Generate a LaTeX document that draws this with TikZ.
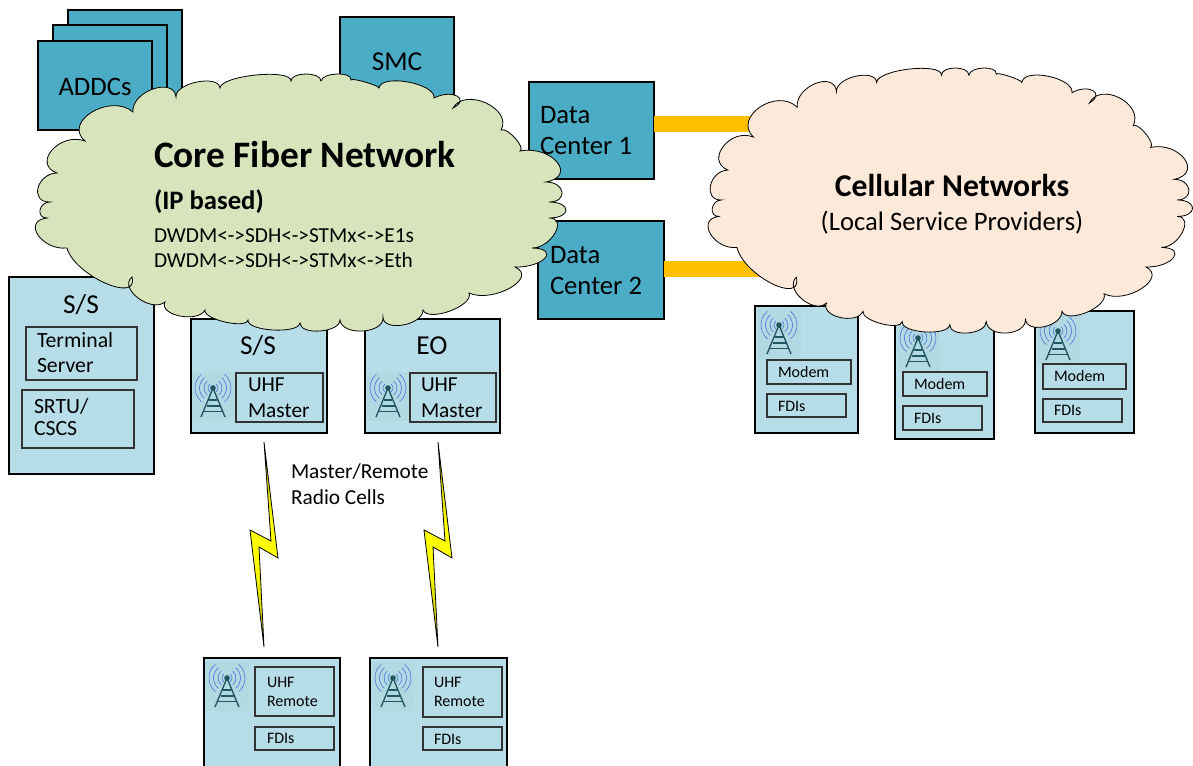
\documentclass[tikz,border=0pt]{standalone}
\usepackage{fontspec}
\setmainfont{Carlito}
\definecolor{teal}{HTML}{4BACC6}
\definecolor{lightb}{HTML}{B7DDE8}
\definecolor{corec}{HTML}{D8E4BC}
\definecolor{cellc}{HTML}{FDE9D9}
\definecolor{orangec}{HTML}{FFC000}
\definecolor{towerc}{HTML}{215560}
\definecolor{arcc}{HTML}{2F5FE0}
\definecolor{iconbg}{HTML}{B2D8E1}
\definecolor{boltdark}{HTML}{3C3C00}
\pgfdeclareverticalshading{boltsh}{100bp}{color(0bp)=(boltdark); color(25bp)=(yellow!70!black); color(45bp)=(yellow); color(55bp)=(yellow); color(75bp)=(yellow!70!black); color(100bp)=(boltdark)}
% one cloud bump: from A, through P, to B
\def\A#1#2#3#4#5#6{.. controls ({#1+4/3*(#3-(#1+#5)/2)},{#2+4/3*(#4-(#2+#6)/2)}) and ({#5+4/3*(#3-(#1+#5)/2)},{#6+4/3*(#4-(#2+#6)/2)}) .. (#5,#6) }
\def\cloudpath{(133,112)
 \A{133}{112}{153}{89}{176}{97}
 \A{176}{97}{197}{82}{220}{88}
 \A{220}{88}{256}{75}{291}{81}
 \A{291}{81}{306}{74}{321}{81}
 \A{321}{81}{337}{74}{351}{80}
 \A{351}{80}{365}{82}{379}{88}
 \A{379}{88}{408}{82}{434}{98}
 \A{434}{98}{457}{96}{453}{108}
 \A{453}{108}{486}{103}{501}{130}
 \A{501}{130}{515}{138}{520}{151}
 \A{520}{151}{557}{162}{546}{182}
 \A{546}{182}{562}{192}{549}{202}
 \A{549}{202}{566}{210}{549}{218}
 \A{549}{218}{555}{233}{532}{248}
 \A{532}{248}{545}{258}{515}{267}
 \A{515}{267}{510}{288}{469}{293}
 \A{469}{293}{450}{311}{423}{310}
 \A{423}{310}{403}{325}{383}{317}
 \A{383}{317}{363}{331}{340}{320}
 \A{340}{320}{320}{331}{300}{323}
 \A{300}{323}{273}{330}{248}{320}
 \A{248}{320}{225}{322}{205}{310}
 \A{205}{310}{180}{316}{165}{302}
 \A{165}{302}{138}{298}{132}{277}
 \A{132}{277}{105}{283}{67}{248}
 \A{67}{248}{38}{235}{47}{218}
 \A{47}{218}{40}{210}{50}{202}
 \A{50}{202}{38}{188}{57}{173}
 \A{57}{173}{52}{150}{85}{141}
 \A{85}{141}{92}{112}{133}{112}
 -- cycle}
\tikzset{
 box/.style={draw=black,line width=0.95pt,rectangle,inner sep=0pt,outer sep=0pt},
 darkbox/.style={box,fill=teal},
 litebox/.style={box,fill=lightb},
 innerbox/.style={draw=black!80,line width=0.85pt,rectangle,inner sep=0pt,outer sep=0pt},
 lbl/.style={anchor=base west,inner sep=0pt,outer sep=0pt,text=black},
 clbl/.style={anchor=base,inner sep=0pt,outer sep=0pt,text=black},
 cloudline/.style={draw=black,line width=0.6pt,line join=miter},
 fatlink/.style={draw=orangec,line width=12pt},
 bolt/.style={draw=black,line width=0.6pt,shading=boltsh,line join=miter},
 towericon/.pic={
  \fill[iconbg] (-21,-16) rectangle (22,33);
  \foreach \r in {5,9,13.5,18}{
   \draw[arcc,line width=0.35pt] ({\r*cos(130)},{\r*sin(130)}) arc[start angle=130,end angle=230,radius=\r];
   \draw[arcc,line width=0.35pt] ({\r*cos(-50)},{\r*sin(-50)}) arc[start angle=-50,end angle=50,radius=\r];
  }
  \draw[towerc,line width=1pt,line join=round] (-12,29) -- (0,0) -- (12,29);
  \draw[towerc,line width=0.8pt] (-4,12) -- (4,12) (-6.5,18) -- (6.5,18) (-9,23.5) -- (9,23.5);
  \fill[towerc] (0,0) circle[radius=2.8];
 }
}
\newcommand{\bx}[6]{\node[#1,minimum width={(#5-#3)*0.75pt},minimum height={(#6-#4)*0.75pt}] (#2) at ({(#3+#5)/2},{(#4+#6)/2}) {};}
\begin{document}
\begin{tikzpicture}[x=0.75pt,y=-0.75pt]
\useasboundingbox (0,0) rectangle (1193,765);
\fill[white] (0,0) rectangle (1193,765);
% ADDC stack, SMC
\bx{darkbox}{addc3}{68}{10}{182}{100}
\bx{darkbox}{addc2}{53}{25}{167}{115}
\bx{darkbox}{addc1}{38}{41}{152}{130}
\bx{darkbox}{smc}{340}{17}{454}{110}
\node[clbl,font=\fontsize{20}{20}\selectfont] (addct) at (95,95) {ADDCs};
\node[clbl,font=\fontsize{20.5}{20.5}\selectfont] (smct) at (397,70) {SMC};
% data centres
\bx{darkbox}{dc1}{529}{82}{654}{179}
\bx{darkbox}{dc2}{538}{221}{664}{319}
\node[lbl,font=\fontsize{20}{20}\selectfont] (dc1a) at (540,123) {Data};
\node[lbl,font=\fontsize{20}{20}\selectfont] (dc1b) at (540,154) {Center 1};
\node[lbl,font=\fontsize{20}{20}\selectfont] (dc2a) at (550,263) {Data};
\node[lbl,font=\fontsize{20}{20}\selectfont] (dc2b) at (550,294) {Center 2};
% big S/S
\bx{litebox}{ss0}{9}{277}{154}{474}
\bx{innerbox}{term}{26}{327}{137}{380}
\bx{innerbox}{srtu}{22}{390}{134}{448}
\node[clbl,font=\fontsize{20.5}{20.5}\selectfont] (ss0t) at (81,313) {S/S};
\node[lbl,font=\fontsize{16.3}{16.3}\selectfont] (termt) at (37,347) {Terminal};
\node[lbl,font=\fontsize{16.3}{16.3}\selectfont] (servt) at (37,372) {Server};
\node[lbl,font=\fontsize{16.3}{16.3}\selectfont] (srtut) at (34,413) {SRTU/};
\node[lbl,font=\fontsize{16.3}{16.3}\selectfont] (cscst) at (34,435) {CSCS};
% S/S and EO
\bx{litebox}{ss1}{191}{319}{327}{433}
\bx{litebox}{eo}{365}{319}{500}{433}
\pic at (213,388) {towericon};
\pic at (388,388) {towericon};
\bx{innerbox}{uhf1}{236}{373}{323}{422}
\bx{innerbox}{uhf2}{410}{373}{496}{422}
\node[clbl,font=\fontsize{20.5}{20.5}\selectfont] (ss1t) at (258,354) {S/S};
\node[clbl,font=\fontsize{20.5}{20.5}\selectfont] (eot) at (432,354) {EO};
\node[lbl,font=\fontsize{16}{16}\selectfont] (uhf1a) at (248,391) {UHF};
\node[lbl,font=\fontsize{16}{16}\selectfont] (uhf1b) at (248,417) {Master};
\node[lbl,font=\fontsize{16}{16}\selectfont] (uhf2a) at (421,391) {UHF};
\node[lbl,font=\fontsize{16}{16}\selectfont] (uhf2b) at (421,417) {Master};
% radio label
\node[lbl,font=\fontsize{16}{16}\selectfont] (mr1) at (291,478) {Master/Remote};
\node[lbl,font=\fontsize{16}{16}\selectfont] (mr2) at (291,504) {Radio Cells};
% lightning
\draw[bolt] (264,442) -- (278,558) -- (259,547) -- (264,647) -- (250,530) -- (271,541) -- cycle;
\draw[bolt] (438,442) -- (452,558) -- (433,547) -- (438,647) -- (424,530) -- (445,541) -- cycle;
% remote stations
\bx{litebox}{rm1}{204}{658}{340}{775}
\bx{litebox}{rm2}{370}{658}{507}{775}
\pic at (227,678) {towericon};
\pic at (393,678) {towericon};
\bx{innerbox}{ur1}{255}{667}{334}{716}
\bx{innerbox}{fr1}{255}{727}{334}{750}
\bx{innerbox}{ur2}{423}{667}{502}{717}
\bx{innerbox}{fr2}{423}{727}{502}{750}
\node[lbl,font=\fontsize{12}{12}\selectfont] (ur1a) at (267,687) {UHF};
\node[lbl,font=\fontsize{12}{12}\selectfont] (ur1b) at (267,706) {Remote};
\node[lbl,font=\fontsize{12}{12}\selectfont] (fr1t) at (267,743) {FDIs};
\node[lbl,font=\fontsize{12}{12}\selectfont] (ur2a) at (434,687) {UHF};
\node[lbl,font=\fontsize{12}{12}\selectfont] (ur2b) at (434,706) {Remote};
\node[lbl,font=\fontsize{12}{12}\selectfont] (fr2t) at (434,744) {FDIs};
% modem stations
\bx{litebox}{md1}{755}{306}{858}{433}
\bx{litebox}{md2}{895}{310}{994}{439}
\bx{litebox}{md3}{1035}{311}{1134}{433}
\pic at (779,325) {towericon};
\pic at (918,338) {towericon};
\pic at (1058,331) {towericon};
\bx{innerbox}{mo1}{767}{360}{851}{384}
\bx{innerbox}{fd1}{767}{394}{846}{417}
\bx{innerbox}{mo2}{903}{372}{987}{396}
\bx{innerbox}{fd2}{903}{406}{982}{430}
\bx{innerbox}{mo3}{1043}{364}{1126}{389}
\bx{innerbox}{fd3}{1043}{399}{1122}{422}
\node[lbl,font=\fontsize{12}{12}\selectfont] (mo1t) at (778,377) {Modem};
\node[lbl,font=\fontsize{12}{12}\selectfont] (fd1t) at (778,411) {FDIs};
\node[lbl,font=\fontsize{12}{12}\selectfont] (mo2t) at (914,389) {Modem};
\node[lbl,font=\fontsize{12}{12}\selectfont] (fd2t) at (914,423) {FDIs};
\node[lbl,font=\fontsize{12}{12}\selectfont] (mo3t) at (1054,381) {Modem};
\node[lbl,font=\fontsize{12}{12}\selectfont] (fd3t) at (1054,415) {FDIs};
% orange links
\coordinate (cellA) at (770,124);
\coordinate (cellB) at (770,269);
\draw[fatlink] (dc1.east |- cellA) -- (cellA);
\draw[fatlink] (dc2.east |- cellB) -- (cellB);
% clouds
\path[cloudline,fill=corec] \cloudpath;
\begin{scope}[shift={(675.8,-8.3)},xscale=0.913,yscale=1.031]
\path[cloudline,fill=cellc] \cloudpath;
\end{scope}
\node[lbl,font=\fontsize{28}{28}\bfseries\selectfont] (coret) at (154,167) {Core Fiber Network};
\node[lbl,font=\fontsize{20}{20}\bfseries\selectfont] (ipt) at (154,209) {(IP based)};
\node[lbl,font=\fontsize{16}{16}\selectfont] (dw1) at (154,242) {DWDM<->SDH<->STMx<->E1s};
\node[lbl,font=\fontsize{16}{16}\selectfont] (dw2) at (154,267) {DWDM<->SDH<->STMx<->Eth};
\node[clbl,font=\fontsize{23.8}{23.8}\bfseries\selectfont] (cellt) at (952,196) {Cellular Networks};
\node[clbl,font=\fontsize{20}{20}\selectfont] (lsp) at (952,230) {(Local Service Providers)};
\end{tikzpicture}
\end{document}
